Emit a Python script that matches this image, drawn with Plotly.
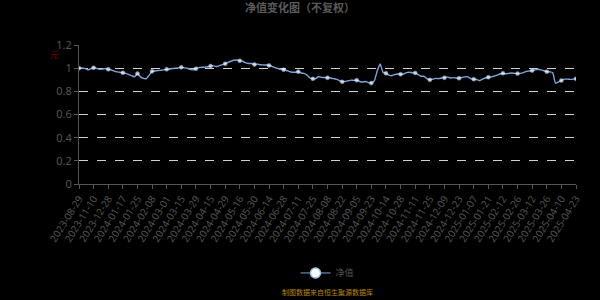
import plotly.graph_objects as go

tick_labels = ["2023-08-29", "2023-11-10", "2023-12-28", "2024-01-17", "2024-01-25",
               "2024-02-08", "2024-03-01", "2024-03-15", "2024-03-29", "2024-04-15",
               "2024-04-29", "2024-05-16", "2024-05-30", "2024-06-14", "2024-06-28",
               "2024-07-11", "2024-07-25", "2024-08-08", "2024-08-22", "2024-09-05",
               "2024-09-23", "2024-10-14", "2024-10-28", "2024-11-11", "2024-11-25",
               "2024-12-09", "2024-12-23", "2025-01-07", "2025-01-21", "2025-02-12",
               "2025-02-26", "2025-03-12", "2025-03-26", "2025-04-10", "2025-04-23"]

# net value, 5 readings per labelled interval (starting at each labelled date)
nav = [
    1.000, 1.002, 0.998, 0.985, 0.995,
    1.004, 0.998, 0.990, 0.992, 0.997,
    0.990, 0.985, 0.975, 0.968, 0.965,
    0.960, 0.955, 0.945, 0.935, 0.925,
    0.953, 0.925, 0.912, 0.910, 0.940,
    0.973, 0.976, 0.980, 0.982, 0.985,
    0.990, 0.992, 0.997, 1.000, 1.003,
    1.007, 1.003, 1.000, 0.990, 0.985,
    0.996, 1.005, 1.008, 1.008, 1.012,
    1.018, 1.020, 1.015, 1.022, 1.030,
    1.038, 1.050, 1.060, 1.068, 1.070,
    1.064, 1.060, 1.045, 1.040, 1.040,
    1.032, 1.035, 1.030, 1.028, 1.027,
    1.024, 1.015, 1.005, 0.998, 0.990,
    0.987, 0.980, 0.970, 0.965, 0.965,
    0.970, 0.958, 0.955, 0.940, 0.915,
    0.908, 0.910, 0.928, 0.920, 0.920,
    0.917, 0.915, 0.910, 0.905, 0.895,
    0.882, 0.885, 0.890, 0.897, 0.895,
    0.896, 0.885, 0.880, 0.885, 0.875,
    0.871, 0.890, 0.975, 1.036, 0.965,
    0.956, 0.940, 0.935, 0.945, 0.950,
    0.947, 0.950, 0.962, 0.965, 0.960,
    0.959, 0.945, 0.930, 0.930, 0.910,
    0.899, 0.905, 0.912, 0.910, 0.915,
    0.917, 0.925, 0.915, 0.918, 0.915,
    0.913, 0.920, 0.925, 0.925, 0.910,
    0.905, 0.902, 0.892, 0.905, 0.915,
    0.922, 0.925, 0.930, 0.940, 0.950,
    0.956, 0.952, 0.955, 0.958, 0.955,
    0.953, 0.955, 0.962, 0.972, 0.975,
    0.979, 0.985, 0.990, 0.985, 0.978,
    0.970, 0.968, 0.962, 0.870, 0.880,
    0.894, 0.905, 0.905, 0.903, 0.905,
    0.908,
]

y_ticks = [0, 0.2, 0.4, 0.6, 0.8, 1, 1.2]
y_tick_text = ["0", "0.2", "0.4", "0.6", "0.8", "1", "1.2"]

step = 5
x = list(range(len(nav)))
tick_pos = list(range(0, len(nav), step))
marker_sizes = [4 if i % step == 0 else 0 for i in x]

fig = go.Figure()
fig.add_trace(go.Scatter(
    x=x, y=nav, name="净值", mode="lines+markers", showlegend=False,
    line=dict(color="#7aa6dc", width=1.4, shape="spline", smoothing=0.5),
    marker=dict(size=marker_sizes, color="#ffffff",
                line=dict(color="#c4daf5", width=0.5)),
))
# legend entry only
fig.add_trace(go.Scatter(
    x=[None], y=[None], name="净值", mode="lines+markers", showlegend=True,
    line=dict(color="#7aa6dc", width=1),
    marker=dict(size=10, color="#ffffff", line=dict(color="#9cc0ec", width=1.5)),
))

fig.update_layout(
    width=600, height=300,
    paper_bgcolor="#000000", plot_bgcolor="#000000",
    margin=dict(l=79, r=24, t=45, b=114),
    font=dict(family="Noto Sans, Noto Sans CJK SC", color="#555555"),
    title=dict(text="<b>净值变化图（不复权）</b>", x=0.5, xanchor="center",
               y=0.985, yanchor="top",
               font=dict(size=11, color="#5a5a5a", family="Noto Sans CJK SC")),
    showlegend=True,
    legend=dict(orientation="h", x=0.5, xanchor="center", y=-0.64, yanchor="middle",
                font=dict(size=9, color="#555555", family="Noto Sans CJK SC"),
                itemwidth=30, bgcolor="rgba(0,0,0,0)"),
    xaxis=dict(
        range=[0, len(nav) - 1],
        tickmode="array", tickvals=tick_pos, ticktext=tick_labels,
        tickangle=-58, tickfont=dict(size=10, color="#555555"),
        showgrid=False, zeroline=False,
        showline=True, linecolor="#555555", linewidth=1,
        ticks="outside", ticklen=4, tickcolor="#555555",
    ),
    yaxis=dict(
        range=[0, 1.2], tickmode="array", tickvals=y_ticks, ticktext=y_tick_text,
        tickfont=dict(size=11, color="#555555"),
        showgrid=True, gridcolor="#cfcfcf", griddash="dash", gridwidth=1,
        zeroline=False,
        showline=True, linecolor="#555555", linewidth=1,
        ticks="outside", ticklen=4, tickcolor="#555555",
    ),
)

fig.add_annotation(text="元", xref="paper", yref="paper", x=-0.05, y=0.935,
                   xanchor="center", yanchor="middle",
                   showarrow=False, font=dict(size=8, color="#8b0000",
                                              family="Noto Sans CJK SC"))
fig.add_annotation(text="制图数据来自恒生聚源数据库", xref="paper", yref="paper",
                   x=0.5, y=-0.78, xanchor="center", yanchor="middle", showarrow=False,
                   font=dict(size=7, color="#b8860b", family="Noto Sans CJK SC"))

fig.write_html("out.html")
